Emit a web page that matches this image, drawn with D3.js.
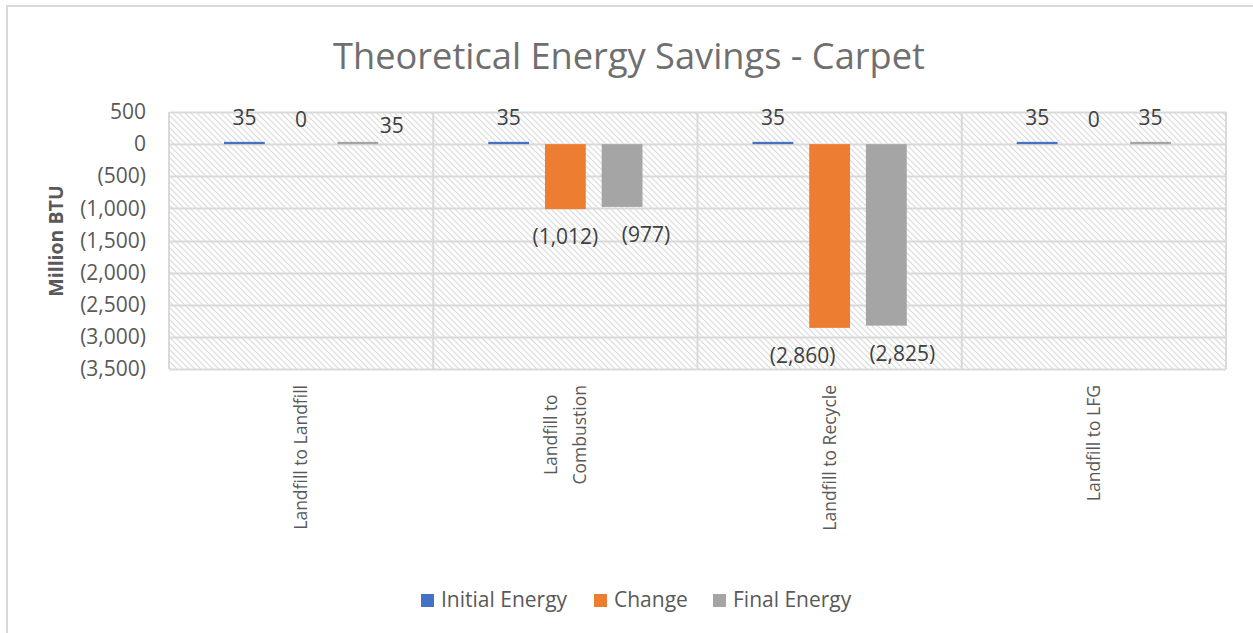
<!DOCTYPE html>
<html>
<head>
<meta charset="utf-8">
<script src="https://cdn.jsdelivr.net/npm/d3@7"></script>
<style>
  html, body { margin: 0; padding: 0; background: #fff; }
  svg { display: block; font-family: "Open Sans", "Noto Sans", sans-serif; }
</style>
</head>
<body>
<svg id="chart" width="1253" height="633"></svg>
<script>
// Carpet end-of-life scenarios, energy in million BTU
const categories = ["Landfill to Landfill", "Landfill to Combustion", "Landfill to Recycle", "Landfill to LFG"];
const categoryLines = [["Landfill to Landfill"], ["Landfill to", "Combustion"], ["Landfill to Recycle"], ["Landfill to LFG"]];
const seriesNames = ["Initial Energy", "Change", "Final Energy"];
const initialEnergy = [35, 35, 35, 35];
const changeEnergy = [0, -1012, -2860, 0];
const finalEnergy = [35, -977, -2825, 35];
const yTicks = [500, 0, -500, -1000, -1500, -2000, -2500, -3000, -3500];
const seriesColors = ["#4472c4", "#ed7d31", "#a5a5a5"];

const seriesValues = [initialEnergy, changeEnergy, finalEnergy];

const svg = d3.select("#chart");
const W = 1253, H = 633;
const plot = { left: 169, right: 1226, top: 112, bottom: 369 };
const textColor = "#595959";

// outer chart frame (top and left edges)
svg.append("path")
  .attr("d", `M7,${H} V6 H${W}`)
  .attr("fill", "none").attr("stroke", "#d9d9d9").attr("stroke-width", 2);

// diagonal hatch used for the plot background
const defs = svg.append("defs");
const pat = defs.append("pattern")
  .attr("id", "hatch").attr("patternUnits", "userSpaceOnUse")
  .attr("width", 6).attr("height", 6);
pat.append("rect").attr("width", 6).attr("height", 6).attr("fill", "#fff");
pat.append("path").attr("d", "M-1,-1 L7,7 M-1,5 L1,7 M5,-1 L7,1")
  .attr("stroke", "#dadada").attr("stroke-width", 1.1);

const y = d3.scaleLinear().domain([-3500, 500]).range([plot.bottom, plot.top]);
const x0 = d3.scaleBand().domain(categories).range([plot.left, plot.right]).padding(0);
const cw = x0.bandwidth();
const x1 = d3.scaleBand().domain(seriesNames).range([55, cw - 55]).paddingInner(0.28).paddingOuter(0);

svg.append("rect")
  .attr("x", plot.left).attr("y", plot.top)
  .attr("width", plot.right - plot.left).attr("height", plot.bottom - plot.top)
  .attr("fill", "url(#hatch)");

// horizontal gridlines
svg.append("g").selectAll("line").data(yTicks).join("line")
  .attr("x1", plot.left).attr("x2", plot.right)
  .attr("y1", d => Math.round(y(d)) + 0.5).attr("y2", d => Math.round(y(d)) + 0.5)
  .attr("stroke", "#d9d9d9").attr("stroke-width", 2);

// vertical category dividers and plot sides
const dividers = categories.map(c => x0(c)).concat([plot.right]);
svg.append("g").selectAll("line").data(dividers).join("line")
  .attr("x1", d => d).attr("x2", d => d)
  .attr("y1", plot.top).attr("y2", plot.bottom)
  .attr("stroke", "#d9d9d9").attr("stroke-width", 2);

// y axis tick labels
const fmt = v => v < 0 ? "(" + d3.format(",")(-v) + ")" : d3.format(",")(v);
const yAxis = d3.axisLeft(y).tickValues(yTicks).tickFormat(fmt).tickSize(0).tickPadding(0);
const gy = svg.append("g").attr("transform", `translate(146,0)`).call(yAxis);
gy.select(".domain").remove();
gy.selectAll("text").attr("fill", textColor).style("font-size", "21px")
  .style("font-family", '"Open Sans", sans-serif');

// y axis title
svg.append("text")
  .attr("transform", "translate(63,241) rotate(-90)")
  .attr("text-anchor", "middle")
  .attr("fill", textColor).style("font-size", "19.5px").style("font-weight", "bold")
  .text("Million BTU");

// bars
const rows = [];
categories.forEach((c, ci) => {
  seriesNames.forEach((s, si) => {
    rows.push({ cat: c, ci, series: s, si, value: seriesValues[si][ci] });
  });
});

svg.append("g").selectAll("rect").data(rows.filter(d => d.value !== 0)).join("rect")
  .attr("x", d => x0(d.cat) + x1(d.series))
  .attr("width", x1.bandwidth())
  .attr("y", d => y(Math.max(0, d.value)))
  .attr("height", d => Math.abs(y(d.value) - y(0)))
  .attr("fill", d => seriesColors[d.si]);

// data labels, with a few nudged apart as laid out on the chart
const labelNudge = {
  "0|2": [34, 8], "1|2": [24, 0], "2|1": [-27, 0], "2|2": [16, 0]
};
svg.append("g").selectAll("text").data(rows).join("text")
  .attr("x", d => x0(d.cat) + x1(d.series) + x1.bandwidth() / 2 + (labelNudge[d.ci + "|" + d.si] || [0, 0])[0])
  .attr("y", d => (d.value < 0 ? y(d.value) + 28 : y(d.value) - 24) + (labelNudge[d.ci + "|" + d.si] || [0, 0])[1])
  .attr("dy", "0.35em")
  .attr("text-anchor", "middle")
  .attr("fill", "#404040").style("font-size", "21px")
  .text(d => fmt(d.value));

// category labels, rotated, top edge aligned just under the plot
const catG = svg.append("g");
categories.forEach((c, ci) => {
  const lines = categoryLines[ci];
  const cx = x0(c) + cw / 2;
  const lh = 29;
  const g = catG.append("g");
  const texts = lines.map((ln, li) => g.append("text")
    .attr("text-anchor", "middle")
    .attr("fill", textColor).style("font-size", "17.5px")
    .text(ln));
  const maxLen = d3.max(texts, t => t.node().getComputedTextLength());
  const cy = 385 + maxLen / 2;
  texts.forEach((t, li) => {
    const lx = cx + (li - (lines.length - 1) / 2) * lh;
    t.attr("transform", `translate(${lx},${cy}) rotate(-90)`).attr("dy", "0.35em");
  });
});

// title, sized to its span across the top
const title = svg.append("text")
  .attr("x", 629).attr("y", 56).attr("dy", "0.35em")
  .attr("text-anchor", "middle")
  .attr("fill", "#6f6f6f").style("font-size", "34px")
  .text("Theoretical Energy Savings - Carpet");
const tl = title.node().getComputedTextLength();
title.style("font-size", (34 * 592 / tl).toFixed(2) + "px");

// legend
const legendX = [421, 594, 713];
const leg = svg.append("g");
seriesNames.forEach((s, i) => {
  leg.append("rect").attr("x", legendX[i]).attr("y", 594).attr("width", 13).attr("height", 13)
    .attr("fill", seriesColors[i]);
  leg.append("text").attr("x", legendX[i] + 20).attr("y", 600).attr("dy", "0.35em")
    .attr("fill", textColor).style("font-size", "21px").text(s);
});
</script>
</body>
</html>
